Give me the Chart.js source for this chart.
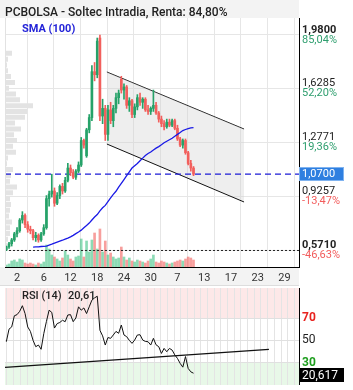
<!DOCTYPE html>
<html>
<head>
<meta charset="utf-8">
<script src="https://cdn.jsdelivr.net/npm/chart.js@4.4.1/dist/chart.umd.min.js"></script>
<style>
body{margin:0;background:#fff;width:353px;height:390px;position:relative;overflow:hidden;font-family:Roboto,sans-serif}
canvas{position:absolute;left:0}
.t{position:absolute;white-space:nowrap;line-height:13px}
</style>
</head>
<body>
<canvas id="main" width="353" height="287" style="top:0"></canvas>
<canvas id="rsi" width="353" height="98" style="top:287px"></canvas>
<div class="t" style="left:5px;top:6px;color:#222;font-size:12px;font-weight:500">PCBOLSA - Soltec Intradia, Renta: 84,80%</div>
<div class="t" style="left:22px;top:22px;color:#2424d8;font-size:11px;font-weight:700">SMA (100)</div>
<div class="t" style="left:22px;top:289px;color:#222;font-size:11px;font-weight:500">RSI (14)</div>
<div class="t" style="left:68px;top:289px;color:#222;font-size:11px;font-weight:500">20,61</div>
<script>
// velas (indice = vela)
var opens  = [0.575,0.595,0.615,0.640,0.680,0.700,0.770,0.800,0.740,0.710, 0.700,0.655,0.670,0.640,0.680,0.720,0.910,0.940,0.960,0.880,
              0.930,0.990,0.960,1.030,1.110,1.080,1.050,1.090,1.130,1.290, 1.190,1.360,1.440,1.740,1.720,1.960,1.450,1.500,1.330,1.490,
              1.420,1.500,1.570,1.690,1.620,1.640,1.520,1.550,1.460,1.510, 1.570,1.540,1.560,1.490,1.480,1.500,1.520,1.470,1.430,1.400,
              1.380,1.410,1.390,1.420,1.370,1.300,1.260,1.290,1.210,1.140, 1.110];
var highs  = [0.600,0.625,0.650,0.690,0.720,0.780,0.825,0.810,0.760,0.730, 0.710,0.690,0.680,0.690,0.740,0.930,0.960,1.070,0.980,0.950,
              1.000,1.010,1.050,1.140,1.130,1.100,1.100,1.150,1.310,1.300, 1.370,1.460,1.780,1.800,1.960,1.980,1.560,1.520,1.520,1.540,
              1.520,1.600,1.620,1.710,1.660,1.650,1.570,1.560,1.530,1.590, 1.600,1.570,1.570,1.520,1.510,1.620,1.540,1.480,1.450,1.420,
              1.430,1.430,1.430,1.430,1.390,1.310,1.300,1.300,1.220,1.160, 1.120];
var lows   = [0.571,0.585,0.600,0.630,0.660,0.690,0.750,0.720,0.690,0.680, 0.640,0.630,0.625,0.630,0.670,0.710,0.860,0.920,0.860,0.870,
              0.910,0.940,0.950,1.020,1.060,1.040,1.035,1.080,1.120,1.240, 1.180,1.340,1.420,1.680,1.700,1.420,1.400,1.290,1.290,1.400,
              1.380,1.470,1.530,1.600,1.560,1.500,1.480,1.440,1.440,1.490, 1.520,1.500,1.480,1.460,1.460,1.480,1.460,1.410,1.380,1.360,
              1.370,1.380,1.380,1.360,1.290,1.250,1.240,1.200,1.130,1.090, 1.060];
var closes = [0.595,0.615,0.640,0.680,0.700,0.770,0.800,0.740,0.710,0.700, 0.655,0.670,0.640,0.680,0.720,0.910,0.940,0.960,0.880,0.930,
              0.990,0.960,1.030,1.110,1.080,1.050,1.090,1.130,1.290,1.260, 1.360,1.440,1.740,1.720,1.940,1.450,1.500,1.330,1.490,1.420,
              1.500,1.570,1.600,1.620,1.640,1.520,1.550,1.460,1.510,1.570, 1.540,1.560,1.490,1.480,1.500,1.520,1.470,1.430,1.400,1.380,
              1.410,1.390,1.420,1.370,1.300,1.260,1.290,1.210,1.140,1.110, 1.070];
var volumes = [2,3,6,7,5,8,7,4,3,4, 3,2,4,3,5,22,18,12,10,8, 6,9,16,12,8,6,10,11,28,10, 26,15,27,34,18,38,15,26,12,14,
               10,8,9,20,10,7,9,6,5,7, 6,5,4,6,8,12,5,4,6,5, 4,3,4,5,6,7,6,8,10,9, 7];
var sma100 = [null,null,null,null,null,null,null,null,null,null,
              0.593,0.594,0.595,0.597,0.598,0.600,0.606,0.612,0.619,0.626, 0.632,0.638,0.645,0.652,0.660,0.670,0.681,0.692,0.704,0.720,
              0.735,0.750,0.770,0.790,0.806,0.830,0.850,0.866,0.890,0.915, 0.938,0.958,0.985,1.010,1.035,1.060,1.085,1.110,1.125,1.140,
              1.158,1.175,1.192,1.205,1.215,1.228,1.240,1.250,1.262,1.275, 1.285,1.295,1.305,1.318,1.330,1.342,1.355,1.362,1.368,1.372,
              1.374];
var rsi14 = [48.8,60,62,72,73,76,81,74,62,58, 50,44.3,45.8,42,56,67,77,75,61,65, 66,68,66.7,72.7,73,66.7,70,80,77,79,
             74,80,86,88,89.5,59,54,45.8,52.5,51.8, 54.8,58,56.3,63.7,54.8,53.3,50,47.3,50.3,54.8, 55,50.3,49,48.8,45.8,51.8,46,44.3,38.3,42.8,
             39.8,42.8,41.3,37,33.8,29.4,26,35.5,24.9,21.8, 20.6];

// eje de precios
var priceTicks = [1.9800, 1.6285, 1.2771, 0.9257, 0.5710];
var pctTicks = ['85,04%', '52,20%', '19,36%', '-13,47%', '-46,63%'];
var xLabels = ['2','6','12','18','24','30','7','13','17','23','29'];
var lastPrice = 1.07;
var minPrice = 0.571;

// canal bajista [vela, precio]
var channelUpper = [[37.6, 1.738], [88.9, 1.365]];
var channelLower = [[37.6, 1.267], [88.9, 0.888]];

// perfil de volumen
var profileLevels = [1.860,1.822,1.784,1.746,1.708,1.670,1.632,1.594,1.556,1.518,1.480,1.442,1.404,1.366,1.328,1.290,1.252,
                     1.214,1.176,1.138,1.100,1.062,1.024,0.986,0.948,0.910,0.872,0.834,0.796,0.758,0.720,0.682,0.644,0.606];
var profileVol = [7,3,2,3,6,10,4,11,15,28,22,20,10,16,9,12,8, 11,3,2,8,6,5,12,8,5,6,5,4,7,5,5,3,2];

// RSI
var rsiLevels = [70, 50, 30];
var rsiTrend = [[-0.5, 25.8], [98.2, 42]];
var rsiLast = '20,617';

var xMin = -0.5, xMax = 109.45, firstGrid = 7.73, gridStep = 10;
var green = '#26a269', red = '#f25f5c';

Chart.defaults.font.family = 'Roboto';

function fmt(v) { return v.toFixed(4).replace('.', ','); }
function pts(arr) { return arr.map(function(p){ return {x: p[0], y: p[1]}; }); }
function noPad(s) { s.paddingTop = 0; s.paddingBottom = 0; }

var up = closes.map(function(c, i){ return c >= opens[i]; });
var bodies = [], wicks = [], vols = [], sma = [], prof = [];
closes.forEach(function(c, i) {
    bodies.push({x: i, y: [opens[i], c]});
    wicks.push({x: i, y: [lows[i], highs[i]]});
    vols.push({x: i, y: volumes[i]});
    sma.push({x: i, y: sma100[i]});
});
profileLevels.forEach(function(l, k) {
    prof.push({x: 0, y: l}, {x: profileVol[k], y: l}, {x: profileVol[k], y: null});
});

var mainDeco = {
    id: 'mainDeco',
    beforeDraw: function(chart) {
        var c = chart.ctx, a = chart.chartArea;
        c.save();
        c.fillStyle = '#f3f3f3';
        c.fillRect(0, 0, a.right, a.top);
        c.fillRect(0, a.bottom, a.right, chart.height - a.bottom - 2);
        c.fillStyle = '#dddddd';
        c.fillRect(0, chart.height - 2, a.right, 1);
        c.restore();
    },
    afterDraw: function(chart) {
        var c = chart.ctx, a = chart.chartArea, y = chart.scales.y;
        c.save();
        c.font = '11px Roboto';
        c.textBaseline = 'middle';
        priceTicks.forEach(function(v, i) {
            c.fillStyle = pctTicks[i].charAt(0) == '-' ? '#f25c5c' : '#2e9e6e';
            c.fillText(pctTicks[i], a.right + 3, y.getPixelForValue(v) + 5);
        });
        var py = Math.round(y.getPixelForValue(lastPrice));
        c.fillStyle = '#2f7fe0';
        c.fillRect(a.right, py - 7, 45, 14);
        c.strokeStyle = '#7fb3f0';
        c.strokeRect(a.right + 0.5, py - 6.5, 44, 13);
        c.fillStyle = '#fff';
        c.fillText(fmt(lastPrice), a.right + 3, py + 0.5);
        c.fillStyle = '#e2e2e2';
        c.fillRect(a.left, a.top, 1, a.bottom - a.top);
        c.restore();
    }
};

new Chart(document.getElementById('main'), {
    type: 'bar',
    data: {
        datasets: [
            {type: 'line', xAxisID: 'xp', data: prof, borderColor: '#e3e3e3', borderWidth: 5, borderCapStyle: 'butt', pointRadius: 0, order: 20},
            {type: 'line', data: pts(channelUpper), borderColor: '#111', borderWidth: 1, pointRadius: 0, order: 15},
            {type: 'line', data: pts(channelLower), borderColor: '#111', borderWidth: 1, pointRadius: 0, fill: '-1', backgroundColor: 'rgba(205,205,205,0.35)', order: 14},
            {type: 'bar', yAxisID: 'yv', data: vols, grouped: false, barThickness: 2, order: 12,
             backgroundColor: up.map(function(u){ return u ? 'rgba(46,190,120,0.55)' : 'rgba(242,95,92,0.6)'; })},
            {type: 'line', data: [{x: xMin, y: minPrice}, {x: xMax, y: minPrice}], borderColor: '#222', borderWidth: 1, borderDash: [2, 2], pointRadius: 0, order: 10},
            {type: 'line', data: [{x: xMin, y: lastPrice}, {x: xMax, y: lastPrice}], borderColor: '#1c1cd6', borderWidth: 1.2, borderDash: [6, 4], pointRadius: 0, order: 9},
            {type: 'bar', data: wicks, grouped: false, barThickness: 1, order: 4,
             backgroundColor: up.map(function(u){ return u ? green : red; })},
            {type: 'bar', data: bodies, grouped: false, barThickness: 2, minBarLength: 1, order: 3,
             backgroundColor: up.map(function(u){ return u ? green : red; })},
            {type: 'line', data: sma, borderColor: '#1a1ae6', borderWidth: 1.3, pointRadius: 0, order: 1}
        ]
    },
    options: {
        responsive: false, animation: false, devicePixelRatio: 1, events: [],
        layout: {padding: {top: 18, left: 5, right: 0, bottom: 0}},
        plugins: {legend: {display: false}, tooltip: {enabled: false}},
        scales: {
            x: {
                type: 'linear', min: xMin, max: xMax, bounds: 'data', offset: false,
                afterBuildTicks: function(s) { s.ticks = xLabels.map(function(l, i){ return {value: firstGrid + i * gridStep}; }); },
                afterFit: function(s) { s.height = 20; },
                grid: {color: '#e6e6e6', drawTicks: false, offset: false},
                border: {color: '#000'},
                ticks: {padding: 5, labelOffset: -10, maxRotation: 0, autoSkip: false, color: '#333', font: {size: 11},
                        callback: function(v, i) { return xLabels[i]; }}
            },
            xp: {type: 'linear', display: false, min: 0, max: 294, offset: false},
            y: {
                position: 'right', min: 0.463, max: 2.091, bounds: 'data',
                afterBuildTicks: function(s) { s.ticks = priceTicks.map(function(v){ return {value: v}; }); },
                afterFit: function(s) { s.width = 54; noPad(s); },
                grid: {color: '#e6e6e6', drawTicks: false},
                border: {color: '#000'},
                ticks: {padding: 3, labelOffset: -5, color: '#222',
                        font: function(ctx) { var e = ctx.index == 0 || ctx.index == priceTicks.length - 1; return {size: 11, weight: e ? 'bold' : 'normal'}; },
                        callback: function(v) { return fmt(v); }}
            },
            yv: {display: false, min: 0, max: 249}
        }
    },
    plugins: [mainDeco]
});

var rsiDeco = {
    id: 'rsiDeco',
    beforeDraw: function(chart) {
        var c = chart.ctx, a = chart.chartArea, y = chart.scales.y;
        var y70 = y.getPixelForValue(70), y30 = y.getPixelForValue(30);
        c.save();
        c.fillStyle = '#fde8e8';
        c.fillRect(a.left, a.top, a.right - a.left, y70 - a.top);
        c.fillStyle = '#e8f8e8';
        c.fillRect(a.left, y30, a.right - a.left, a.bottom - y30);
        c.restore();
    },
    afterDraw: function(chart) {
        var c = chart.ctx, a = chart.chartArea, y = chart.scales.y;
        var py = Math.round(y.getPixelForValue(rsi14[rsi14.length - 1])) + 2;
        c.save();
        c.fillStyle = '#000';
        c.fillRect(a.right, py - 7, 45, 14);
        c.fillStyle = '#fff';
        c.font = '12px Roboto';
        c.textBaseline = 'middle';
        c.fillText(rsiLast, a.right + 3, py + 0.5);
        c.restore();
    }
};

new Chart(document.getElementById('rsi'), {
    type: 'line',
    data: {
        datasets: [
            {data: rsi14.map(function(v, i){ return {x: i, y: v}; }), borderColor: '#111', borderWidth: 1, pointRadius: 0},
            {data: pts(rsiTrend), borderColor: '#111', borderWidth: 1.2, pointRadius: 0}
        ]
    },
    options: {
        responsive: false, animation: false, devicePixelRatio: 1, events: [],
        layout: {padding: {top: 1, left: 5, right: 0, bottom: 0}},
        plugins: {legend: {display: false}, tooltip: {enabled: false}},
        scales: {
            x: {
                type: 'linear', min: xMin, max: xMax, bounds: 'data', offset: false,
                afterBuildTicks: function(s) {
                    var t = [];
                    for (var v = firstGrid - 3 * gridStep / 4; v < xMax; v += gridStep / 4) t.push({value: v});
                    s.ticks = t;
                },
                afterFit: function(s) { s.height = 0; s.paddingLeft = 0; s.paddingRight = 0; },
                grid: {color: '#e4e4e4', drawTicks: false},
                border: {display: false},
                ticks: {display: false}
            },
            y: {
                position: 'right', min: 10.04, max: 96.85, bounds: 'data',
                afterBuildTicks: function(s) { s.ticks = rsiLevels.map(function(v){ return {value: v}; }); },
                afterFit: function(s) { s.width = 54; noPad(s); },
                grid: {color: '#e0e0e0', drawTicks: false},
                border: {color: '#000'},
                ticks: {padding: 3,
                        color: function(ctx) { return ctx.tick.value == 70 ? '#e8231f' : ctx.tick.value == 30 ? '#1e9e1e' : '#222'; },
                        font: function(ctx) { return {size: 12, weight: ctx.tick && ctx.tick.value != 50 ? 'bold' : 'normal'}; },
                        callback: function(v) { return String(v); }}
            }
        }
    },
    plugins: [rsiDeco]
});
</script>
</body>
</html>
